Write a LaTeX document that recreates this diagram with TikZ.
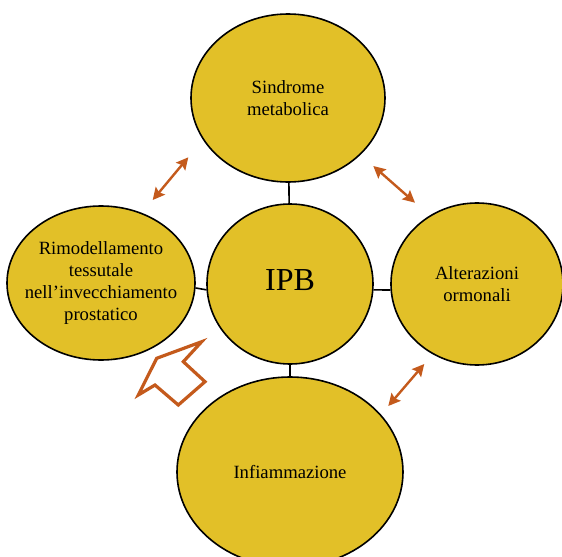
\documentclass[tikz,border=0pt]{standalone}
\usepackage{fontspec}
\setmainfont{Liberation Serif}
\usetikzlibrary{shapes.geometric,arrows.meta}
\definecolor{ipbyellow}{RGB}{226,192,40}
\definecolor{ipborange}{RGB}{196,90,28}

\begin{document}
\begin{tikzpicture}[x=0.75pt, y=-0.75pt,
  every node/.style={font=\fontsize{14}{16.5}\selectfont},
  every label/.style={align=center, text=black},
  bubble/.style={ellipse, draw=black, line width=1.2pt, fill=ipbyellow, inner sep=0pt},
  link/.style={line width=1.2pt},
  dblarrow/.style={<->, >={Stealth[length=9pt,width=9pt,inset=1.5pt]}, draw=ipborange, line width=1.8pt}]
\useasboundingbox[fill=white] (0,0) rectangle (562,557);

% Ellipses
\node[bubble, minimum width=145.5pt, minimum height=126pt,
  label=center:{Sindrome\\metabolica}] (sindrome) at (288,98) {};
\node[bubble, minimum width=124.5pt, minimum height=120pt,
  label={[font=\fontsize{24}{28}\selectfont, yshift=3pt]center:IPB}] (ipb) at (290,284) {};
\node[bubble, minimum width=141pt, minimum height=115.5pt,
  label=center:{Rimodellamento\\tessutale\\nell'invecchiamento\\prostatico}] (rimod) at (101,283) {};
\node[bubble, minimum width=129pt, minimum height=121.5pt,
  label=center:{Alterazioni\\ormonali}] (ormoni) at (477,284) {};
\node[bubble, minimum width=169.5pt, minimum height=142.5pt,
  label=center:{Infiammazione}] (infiamm) at (290,472) {};

% Links to IPB
\draw[link] (sindrome) -- (ipb);
\draw[link] (rimod.-3.7) -- (ipb.184.1);
\draw[link] (ipb.-4.1) -- (ormoni.184);
\draw[link] (ipb) -- (infiamm);

% Double arrows
\coordinate (a1s) at (152.7,200);
\coordinate (a1e) at (188.3,157.3);
\coordinate (a2s) at (373.3,166);
\coordinate (a2e) at (415,202.7);
\coordinate (a3s) at (388.3,406);
\coordinate (a3e) at (424.3,364);
\draw[dblarrow] (a1s) -- (a1e);
\draw[dblarrow] (a2s) -- (a2e);
\draw[dblarrow] (a3s) -- (a3e);

% Hollow arrow
\draw[ipborange, line width=2.4pt] (201.7,341.7) -- (156.7,358.3) -- (138.3,395) -- (155,385)
  -- (178.3,405) -- (205,381.7) -- (183.3,361.7) -- cycle;

\end{tikzpicture}
\end{document}
